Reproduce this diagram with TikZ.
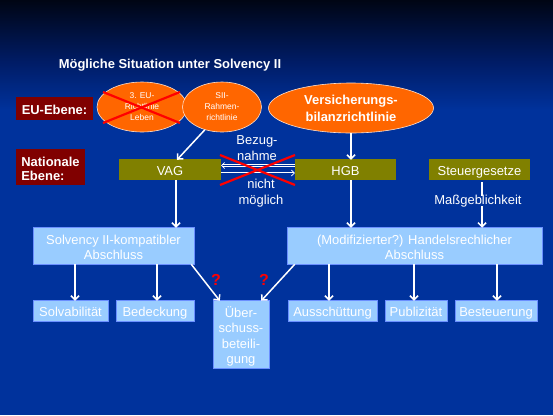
\documentclass[tikz,border=0pt]{standalone}
\usepackage{fontspec}
\setmainfont{Liberation Sans}
\usetikzlibrary{shapes.geometric,arrows.meta}
\definecolor{bgblue}{HTML}{00329C}
\definecolor{bgtop}{HTML}{000514}
\definecolor{bgmid}{HTML}{001C66}
\definecolor{orng}{HTML}{FF6600}
\definecolor{olivebox}{HTML}{808000}
\definecolor{darkred}{HTML}{800000}
\definecolor{lblue}{HTML}{99CCFF}
\newcommand{\upstrut}[1]{\rule{0pt}{#1}}
\tikzset{
  lvl/.style={fill=darkred, text=white, font=\bfseries\fontsize{13}{15}\selectfont, inner sep=2bp},
  ell/.style={ellipse, fill=orng, draw=white!80!orng, line width=0.6bp, text=white, align=center, inner sep=0pt},
  oneline/.style={text height=11bp, text depth=0bp},
  natbox/.style={rectangle, fill=olivebox, text=white, font=\fontsize{13}{15}\selectfont, inner sep=0pt, oneline},
  resbox/.style={rectangle, fill=lblue, draw=lblue!70!blue, line width=0.5bp, text=white, align=center, font=\fontsize{13}{15}\selectfont, inner sep=0pt},
  arr/.style={draw=white, line width=1.5bp, -{Straight Barb[length=4bp,width=8bp]}},
  plainline/.style={draw=white, line width=1.5bp},
  dbl/.style={draw=white, double=bgblue, double distance=0.9bp, line width=0.7bp, -{Straight Barb[length=3bp,width=6bp]}},
  cross/.style={draw=red, line width=2.2bp},
  wtxt/.style={text=white, align=center, font=\fontsize{13}{16}\selectfont, inner sep=0pt},
  qmark/.style={text=red, font=\bfseries\fontsize{16}{16}\selectfont, inner sep=0pt}
}
\begin{document}
\begin{tikzpicture}[x=1bp,y=-1bp]
% background
\fill[bgblue] (0,0) rectangle (553,415);
\shade[top color=bgtop, bottom color=bgmid] (0,0) rectangle (553,62);
\shade[top color=bgmid, bottom color=bgblue] (0,62) rectangle (553,110);
\useasboundingbox (0,0) rectangle (553,415);

% title
\node[text=white, font=\bfseries\fontsize{13}{15}\selectfont, inner sep=0pt] (title) at (170,65) {Mögliche Situation unter Solvency II};

% level labels
\node[lvl, minimum width=77bp, minimum height=23bp, oneline] (eu) at (54.5,108.5) {EU-Ebene:};
\node[lvl, minimum width=69bp, minimum height=36bp, align=left] (nat) at (50.5,167) {\upstrut{12.5bp}Nationale\\[-1bp]Ebene:};

% EU ellipses
\node[ell, minimum width=90bp, minimum height=50bp, font=\fontsize{8.5}{11}\selectfont] (e1) at (142,107) {3. EU-\\Richtlinie\\Leben};
\draw[cross] (103,92) -- (180,123);
\draw[cross] (103,123) -- (180,92);
\node[ell, minimum width=79bp, minimum height=50bp, font=\fontsize{8.5}{11}\selectfont] (e2) at (222,107) {SII-\\Rahmen-\\richtlinie};
\node[ell, minimum width=165bp, minimum height=50bp, font=\bfseries\fontsize{13}{17}\selectfont] (e3) at (351,108) {Versicherungs-\\bilanzrichtlinie};

% national boxes
\node[natbox, minimum width=102bp, minimum height=21bp] (vag) at (170,169.5) {VAG};
\node[natbox, minimum width=101bp, minimum height=21bp] (hgb) at (345.5,169.5) {HGB};
\node[natbox, minimum width=101bp, minimum height=21bp] (steuer) at (479.5,169.5) {Steuergesetze};

% Bezugnahme
\draw[dbl] ([yshift=-3.5bp]vag.east) -- ([yshift=-3.5bp]hgb.west);
\draw[dbl] ([yshift=4bp]hgb.west) -- ([yshift=4bp]vag.east);
\node[wtxt] (bez) at (257,148) {Bezug-\\nahme};
\node[wtxt] (nicht) at (261,193) {nicht\\möglich};
\draw[cross] (220,155) -- (295,185);
\draw[cross] (220,185) -- (295,155);

% result boxes
\node[resbox, minimum width=161bp, minimum height=37bp] (solv) at (113.5,245.5) {\upstrut{12.5bp}Solvency II-kompatibler\\Abschluss};
\node[resbox, minimum width=255bp, minimum height=37bp] (hr) at (414.5,245.5) {\upstrut{12.5bp}(Modifizierter?) Handelsrechlicher\\Abschluss};

\node[resbox, oneline, minimum width=75bp, minimum height=21bp] (sv) at (70.5,310.5) {Solvabilität};
\node[resbox, oneline, minimum width=78bp, minimum height=21bp] (bd) at (155,310.5) {Bedeckung};
\node[resbox, minimum width=56bp, minimum height=68bp, font=\fontsize{13}{15.5}\selectfont] (ub) at (241,334) {\upstrut{16bp}Über-\\schuss-\\beteili-\\gung};
\node[resbox, oneline, minimum width=89bp, minimum height=21bp] (as) at (332.5,310.5) {Ausschüttung};
\node[resbox, oneline, minimum width=62bp, minimum height=21bp] (pb) at (416,310.5) {Publizität};
\node[resbox, oneline, minimum width=82bp, minimum height=21bp] (bs) at (496,310.5) {Besteuerung};

% Maßgeblichkeit
\node[wtxt] (mg) at (478,201) {Maßgeblichkeit};

% arrows top
\draw[arr] (e2.233) -- ([xshift=7bp,yshift=-1bp]vag.north);
\draw[arr] ([xshift=5.5bp]hgb.north |- e3.south) -- ([xshift=5.5bp,yshift=-1bp]hgb.north);
\draw[arr] ([xshift=6bp]vag.south) -- ([xshift=6bp,yshift=-1bp]vag.south |- solv.north);
\draw[arr] ([xshift=5.5bp]hgb.south) -- ([xshift=5.5bp,yshift=-1bp]hgb.south |- hr.north);
\draw[plainline] ([xshift=2.5bp,yshift=-2bp]steuer.south) -- ([xshift=2.5bp,yshift=-1bp]steuer.south |- mg.north);
\draw[arr] ([xshift=2.5bp,yshift=1bp]steuer.south |- mg.south) -- ([xshift=2.5bp,yshift=-1bp]steuer.south |- hr.north);

% arrows bottom
\draw[arr] ([xshift=4.5bp]sv.north |- solv.south) -- ([xshift=4.5bp,yshift=-1bp]sv.north);
\draw[arr] ([xshift=2bp]bd.north |- solv.south) -- ([xshift=2bp,yshift=-1bp]bd.north);
\draw[arr] ([xshift=-3bp]solv.south east) -- ([xshift=7bp,yshift=-1bp]ub.north west);
\draw[arr] ([xshift=8bp]hr.south west) -- ([xshift=-8bp,yshift=-1bp]ub.north east);
\draw[arr] ([xshift=-3.5bp]as.north |- hr.south) -- ([xshift=-3.5bp,yshift=-1bp]as.north);
\draw[arr] ([xshift=-2bp]pb.north |- hr.south) -- ([xshift=-2bp,yshift=-1bp]pb.north);
\draw[arr] ([xshift=1bp]bs.north |- hr.south) -- ([xshift=1bp,yshift=-1bp]bs.north);

\node[qmark] (q1) at (216,280) {?};
\node[qmark] (q2) at (264,280) {?};
\end{tikzpicture}
\end{document}
